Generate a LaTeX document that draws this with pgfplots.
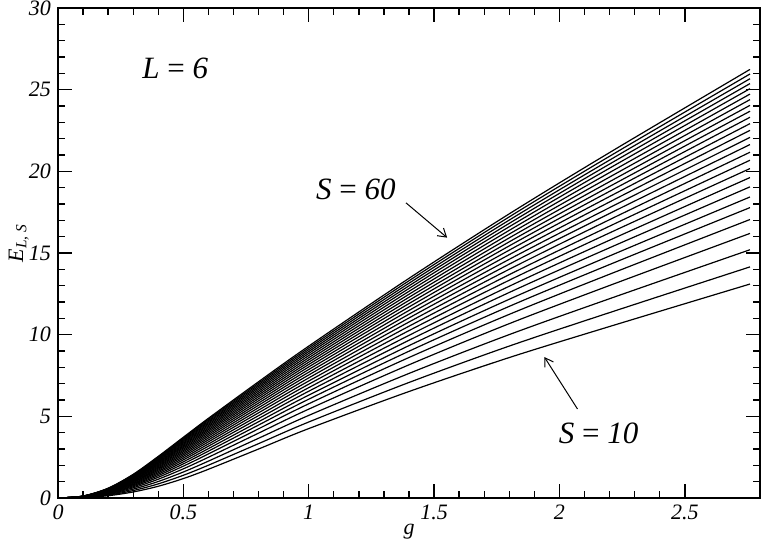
\documentclass[border=0pt]{standalone}
\usepackage{pgfplots}
\usepackage{pgfplotstable}
\pgfplotsset{compat=1.18}
\usetikzlibrary{arrows.meta}
\usepackage{fontspec}
\setmainfont{Liberation Serif}

% E_{L,S} against g for L = 6, S = 10, 12, ..., 60
\pgfplotstableread{
g s10 s12 s14 s16 s18 s20 s22 s24 s26 s28 s30 s32 s34 s36 s38 s40 s42 s44 s46 s48 s50 s52 s54 s56 s58 s60
0 0 0 0 0 0 0 0 0 0 0 0 0 0 0 0 0 0 0 0 0 0 0 0 0 0 0
0.1 0.030 0.037 0.044 0.051 0.057 0.062 0.067 0.071 0.075 0.078 0.082 0.085 0.089 0.092 0.094 0.097 0.100 0.102 0.105 0.107 0.110 0.112 0.114 0.116 0.118 0.120
0.2 0.140 0.177 0.214 0.249 0.278 0.304 0.327 0.348 0.368 0.388 0.405 0.423 0.439 0.454 0.469 0.484 0.497 0.510 0.523 0.535 0.547 0.559 0.570 0.580 0.590 0.600
0.3 0.370 0.456 0.543 0.625 0.695 0.755 0.808 0.859 0.906 0.951 0.993 1.033 1.072 1.108 1.143 1.177 1.209 1.240 1.269 1.298 1.326 1.353 1.378 1.403 1.427 1.450
0.4 0.720 0.866 1.012 1.152 1.270 1.372 1.462 1.549 1.628 1.705 1.776 1.844 1.909 1.971 2.030 2.088 2.142 2.194 2.244 2.292 2.340 2.386 2.429 2.471 2.511 2.550
0.5 1.190 1.392 1.594 1.787 1.951 2.091 2.216 2.336 2.445 2.551 2.650 2.744 2.834 2.919 3.002 3.081 3.156 3.227 3.296 3.364 3.429 3.493 3.553 3.610 3.666 3.720
0.6 1.760 2.009 2.259 2.496 2.698 2.871 3.025 3.173 3.308 3.439 3.560 3.676 3.788 3.892 3.994 4.092 4.184 4.272 4.358 4.441 4.522 4.600 4.673 4.745 4.814 4.880
0.8 3.000 3.329 3.658 3.972 4.238 4.468 4.671 4.866 5.044 5.217 5.377 5.531 5.678 5.816 5.950 6.079 6.201 6.317 6.430 6.540 6.647 6.750 6.847 6.941 7.032 7.120
1.0 4.250 4.653 5.057 5.441 5.768 6.049 6.298 6.537 6.756 6.967 7.163 7.352 7.532 7.701 7.866 8.024 8.174 8.316 8.455 8.589 8.720 8.847 8.966 9.081 9.192 9.300
1.4 6.520 7.074 7.627 8.155 8.603 8.988 9.331 9.658 9.959 10.249 10.518 10.776 11.024 11.256 11.483 11.699 11.905 12.100 12.290 12.474 12.654 12.828 12.991 13.149 13.302 13.450
1.8 8.600 9.303 10.006 10.676 11.245 11.735 12.169 12.585 12.967 13.335 13.677 14.005 14.319 14.614 14.902 15.176 15.438 15.686 15.927 16.161 16.389 16.610 16.817 17.018 17.213 17.400
2.2 10.500 11.351 12.202 13.012 13.701 14.294 14.820 15.322 15.785 16.231 16.644 17.041 17.421 17.778 18.126 18.459 18.775 19.075 19.367 19.650 19.926 20.194 20.445 20.688 20.923 21.150
2.76 13.10 14.15 15.20 16.20 17.05 17.78 18.43 19.05 19.62 20.17 20.68 21.17 21.64 22.08 22.51 22.92 23.31 23.68 24.04 24.39 24.73 25.06 25.37 25.67 25.96 26.24
}\data

\begin{document}
\begin{tikzpicture}
\begin{axis}[
  scale only axis,
  width=351pt, height=245pt,
  xmin=0, xmax=2.8, ymin=0, ymax=30,
  xtick={0,0.5,...,2.5}, ytick={0,5,...,30},
  minor x tick num=4, minor y tick num=4,
  tick align=inside,
  major tick length=7pt, minor tick length=3.5pt,
  axis line style={line width=1pt},
  every tick/.style={black, line width=0.7pt},
  /pgf/number format/assume math mode=true,
  tick label style={font=\fontsize{11}{12}\selectfont\itshape},
  xticklabel style={/pgf/number format/fixed},
  xlabel={\itshape g},
  ylabel={\itshape E\textsubscript{L, S}},
  label style={font=\fontsize{11}{12}\selectfont},
  xlabel style={yshift=5pt},
  ylabel style={at={(axis description cs:-0.056,0.52)}, anchor=center},
]
\pgfplotsinvokeforeach{10,12,...,60}{
  \addplot[black, line width=0.6pt, smooth] table[x=g, y=s#1] {\data};
}
\node[font=\fontsize{15.5}{17}\selectfont] at (axis cs:0.468,26.3) {{\itshape L} = {\itshape 6}};
\node[font=\fontsize{15.5}{17}\selectfont] at (axis cs:1.188,18.87) {{\itshape S} = {\itshape 60}};
\node[font=\fontsize{15.5}{17}\selectfont] at (axis cs:2.156,3.93) {{\itshape S} = {\itshape 10}};
\draw[line width=0.5pt, -{Straight Barb[length=4pt,width=5pt]}] (axis cs:1.388,18.07) -- (axis cs:1.552,15.94);
\draw[line width=0.5pt, -{Straight Barb[length=4pt,width=5pt]}] (axis cs:2.072,5.45) -- (axis cs:1.94,8.63);
\coordinate (sw) at (rel axis cs:0,0);
\coordinate (ne) at (rel axis cs:1,1);
\end{axis}
\pgfresetboundingbox
\path ([shift={(-29pt,-22pt)}]sw) rectangle ([shift={(1.5pt,4pt)}]ne);
\end{tikzpicture}
\end{document}
